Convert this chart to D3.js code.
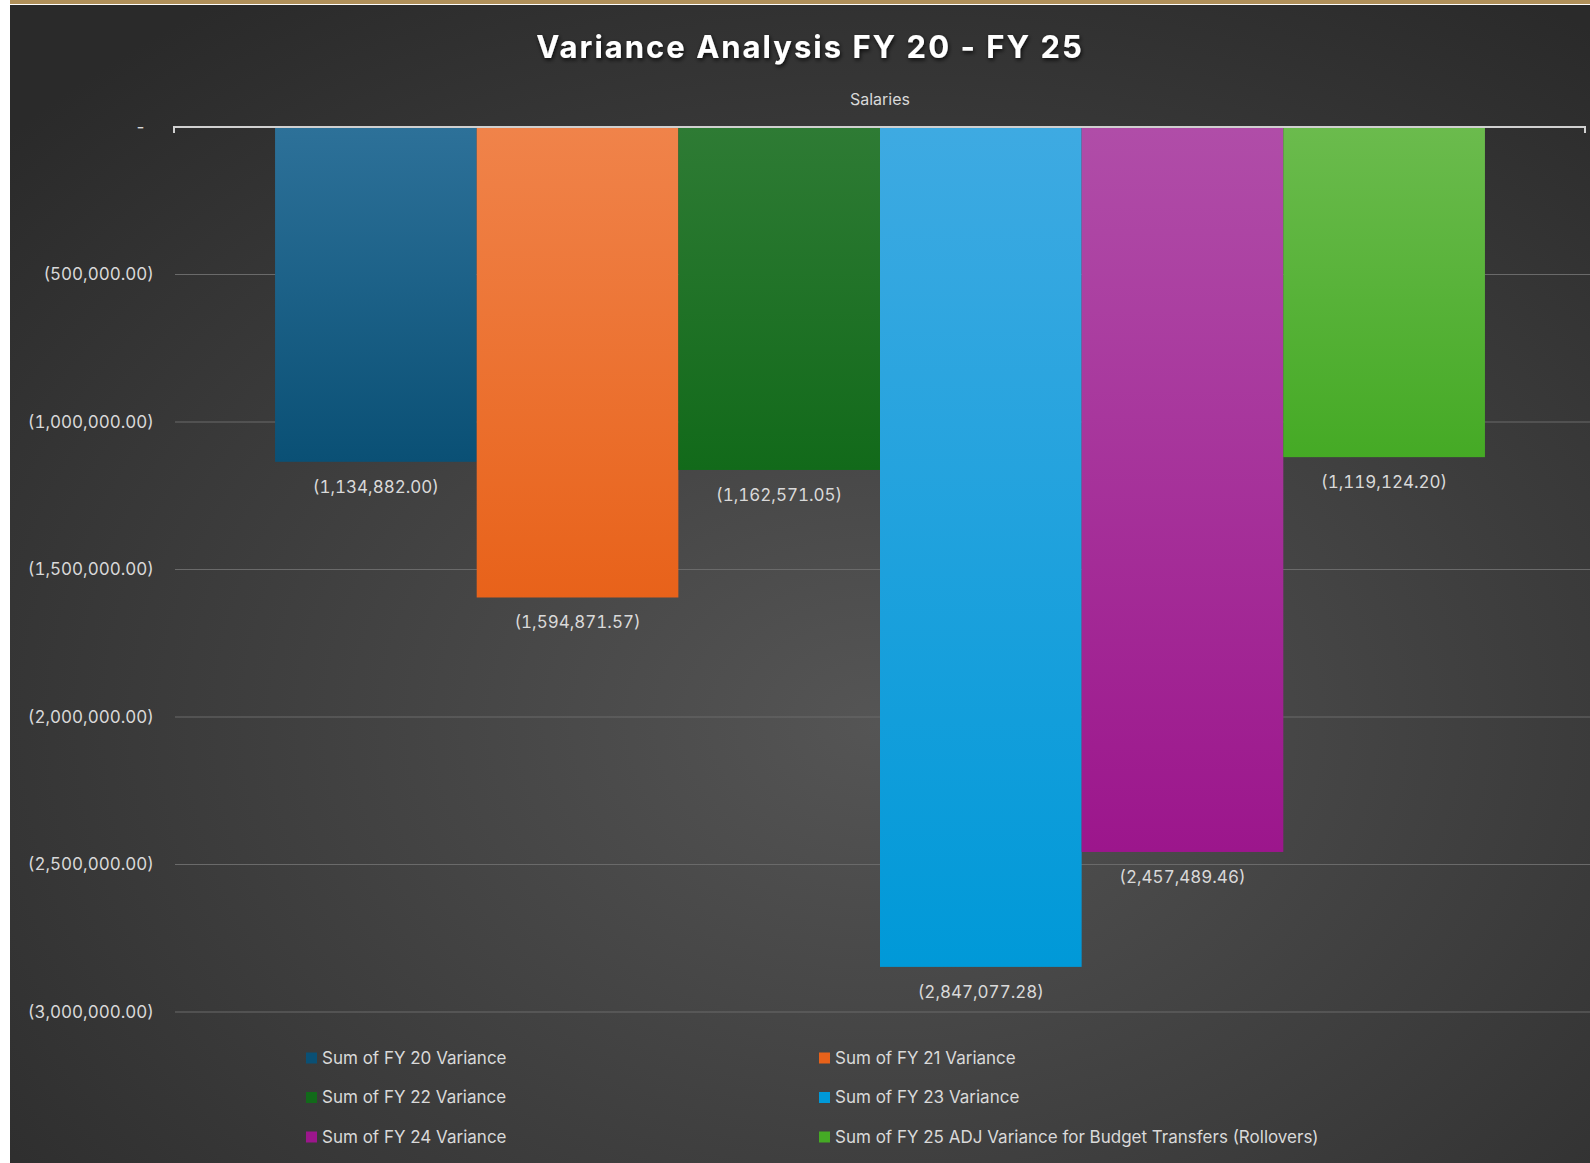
<!DOCTYPE html>
<html>
<head>
<meta charset="utf-8">
<title>Variance Analysis FY 20 - FY 25</title>
<script src="https://d3js.org/d3.v7.min.js"></script>
<style>
  body { margin: 0; background: #fff; }
  text { font-family: Inter, "Open Sans", sans-serif; }
  .num { font-variant-numeric: tabular-nums; font-feature-settings: "tnum"; }
</style>
</head>
<body>
<svg id="chart" width="1590" height="1163"></svg>
<script>
// chart data
var categories = ["Salaries"];
var seriesNames = [
  "Sum of FY 20 Variance",
  "Sum of FY 21 Variance",
  "Sum of FY 22 Variance",
  "Sum of FY 23 Variance",
  "Sum of FY 24 Variance",
  "Sum of FY 25 ADJ Variance for Budget Transfers (Rollovers)"
];
var values = [-1134882.00, -1594871.57, -1162571.05, -2847077.28, -2457489.46, -1119124.20];
var yTicks = [0, -500000, -1000000, -1500000, -2000000, -2500000, -3000000];
var colorsTop = ["#2d7199", "#f0834a", "#2e7b34", "#3eaae2", "#b04da8", "#6bbb4d"];
var colorsBottom = ["#0a5075", "#e8621a", "#126a1a", "#0099d8", "#9c168c", "#45aa25"];

var svg = d3.select("#chart");
var defs = svg.append("defs");

// background
var bg = defs.append("radialGradient").attr("id", "bg")
    .attr("cx", "55%").attr("cy", "62%").attr("r", "75%");
bg.append("stop").attr("offset", "0%").attr("stop-color", "#555555");
bg.append("stop").attr("offset", "100%").attr("stop-color", "#2a2a2a");

svg.append("rect").attr("x", 10).attr("y", 5).attr("width", 1580).attr("height", 1158)
    .attr("fill", "url(#bg)");
svg.append("rect").attr("x", 10).attr("y", 0).attr("width", 1580).attr("height", 4)
    .attr("fill", "#b0905a");

var shadow = defs.append("filter").attr("id", "shadow")
    .attr("x", "-10%").attr("y", "-30%").attr("width", "120%").attr("height", "160%");
shadow.append("feDropShadow").attr("dx", 1).attr("dy", 2).attr("stdDeviation", 2)
    .attr("flood-color", "#000").attr("flood-opacity", 0.8);

seriesNames.forEach(function(s, i) {
  var g = defs.append("linearGradient").attr("id", "grad" + i)
      .attr("x1", 0).attr("y1", 0).attr("x2", 0).attr("y2", 1);
  g.append("stop").attr("offset", "0%").attr("stop-color", colorsTop[i]);
  g.append("stop").attr("offset", "100%").attr("stop-color", colorsBottom[i]);
});

// scales
var x0 = d3.scaleBand().domain(categories).range([175, 1585]).paddingOuter(0.0827).paddingInner(0);
var x1 = d3.scaleBand().domain(d3.range(values.length)).range([0, x0.bandwidth()]);
var y = d3.scaleLinear().domain([-3000000, 0]).range([1012, 127]);

function fmt(v) {
  if (v === 0) return "-";
  return "(" + d3.format(",.2f")(Math.abs(v)) + ")";
}

// gridlines
svg.append("g").selectAll("line").data(yTicks.filter(function(d) { return d !== 0; }))
  .enter().append("line")
    .attr("x1", 175).attr("x2", 1590)
    .attr("y1", function(d) { return y(d); }).attr("y2", function(d) { return y(d); })
    .attr("stroke", "#6a6a6a").attr("stroke-width", 1.2);

// y axis labels
svg.append("g").selectAll("text").data(yTicks).enter().append("text")
    .attr("class", "num")
    .attr("x", function(d) { return d === 0 ? 146 : 154; })
    .attr("y", function(d) { return y(d); })
    .attr("dy", "0.35em")
    .attr("text-anchor", "end")
    .attr("fill", "#d9d9d9")
    .style("font-size", "17px")
    .text(fmt);

// bars
var cat = svg.append("g").attr("transform", "translate(" + x0(categories[0]) + ",0)");
cat.selectAll("rect").data(values).enter().append("rect")
    .attr("x", function(d, i) { return x1(i); })
    .attr("y", y(0))
    .attr("width", x1.bandwidth())
    .attr("height", function(d) { return y(d) - y(0); })
    .attr("fill", function(d, i) { return "url(#grad" + i + ")"; });

cat.selectAll("text").data(values).enter().append("text")
    .attr("class", "num")
    .attr("x", function(d, i) { return x1(i) + x1.bandwidth() / 2; })
    .attr("y", function(d) { return y(d) + 25; })
    .attr("dy", "0.35em")
    .attr("text-anchor", "middle")
    .attr("fill", "#d9d9d9")
    .style("font-size", "17px")
    .text(fmt);

// zero axis line
svg.append("path")
    .attr("d", "M174,133 L174,127 L1585,127 L1585,133")
    .attr("fill", "none").attr("stroke", "#d0d0d0").attr("stroke-width", 2);

// category label
svg.append("text").attr("x", x0(categories[0]) + x0.bandwidth() / 2).attr("y", 105)
    .attr("text-anchor", "middle").attr("fill", "#d9d9d9")
    .style("font-size", "16px").text(categories[0]);

// title
svg.append("text").attr("x", 810).attr("y", 47).attr("dy", "0.35em")
    .attr("text-anchor", "middle").attr("fill", "#ffffff")
    .style("font-size", "31px").style("font-weight", "bold").style("letter-spacing", "2px")
    .attr("filter", "url(#shadow)")
    .text("Variance Analysis FY 20 - FY 25");

// legend
var legend = svg.append("g").selectAll("g").data(seriesNames).enter().append("g")
    .attr("transform", function(d, i) {
      var col = i % 2, row = Math.floor(i / 2);
      return "translate(" + (col === 0 ? 306 : 819) + "," + (1058 + row * 39.5) + ")";
    });
legend.append("rect").attr("x", 0).attr("y", -5.5).attr("width", 11).attr("height", 11)
    .attr("fill", function(d, i) { return colorsBottom[i]; });
legend.append("text").attr("x", 16).attr("y", 0).attr("dy", "0.35em")
    .attr("fill", "#d9d9d9").style("font-size", "17px")
    .text(function(d) { return d; });
</script>
</body>
</html>
